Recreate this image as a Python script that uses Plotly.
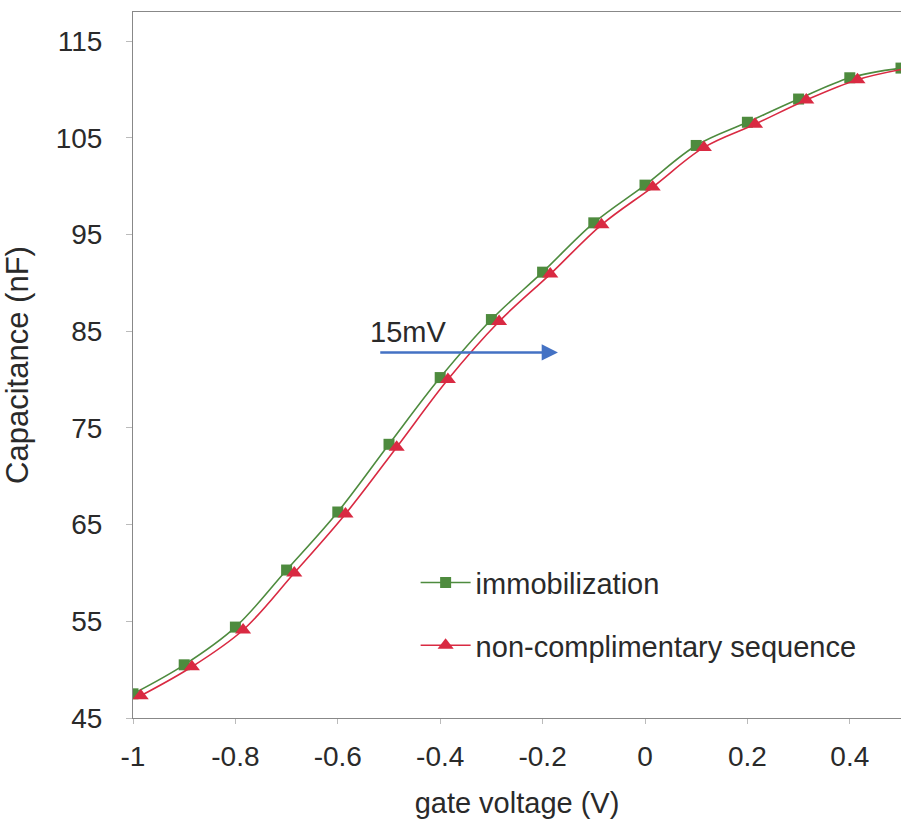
import plotly.graph_objects as go

voltage = [-1.0, -0.9, -0.8, -0.7, -0.6, -0.5, -0.4, -0.3, -0.2, -0.1, 0.0, 0.1, 0.2, 0.3, 0.4, 0.5]
immobilization = [47.5, 50.5, 54.4, 60.3, 66.3, 73.3, 80.2, 86.2, 91.1, 96.2, 100.1, 104.2, 106.6, 109.0, 111.2, 112.2]
shift_v = 0.015
noncomp_voltage = [v + shift_v for v in voltage]
noncomp = [47.3, 50.3, 54.1, 60.0, 66.1, 73.0, 80.0, 86.0, 90.9, 96.0, 99.9, 104.0, 106.4, 108.9, 111.0, 112.2]

font = "Liberation Sans, Arial, sans-serif"

fig = go.Figure()
fig.add_trace(go.Scatter(
    x=voltage, y=immobilization, name="immobilization", legendgroup="a",
    mode="lines+markers", line=dict(color="#4e8b3e", width=1.6, shape="spline"),
    marker=dict(symbol="square", size=11, color="#4e8b3e"),
))
fig.add_trace(go.Scatter(
    x=noncomp_voltage, y=noncomp, name="non-complimentary sequence", legendgroup="b",
    mode="lines+markers", line=dict(color="#d92a42", width=1.6, shape="spline"),
    marker=dict(symbol="triangle-up", size=14, color="#d92a42"),
))

fig.add_annotation(x=-0.17, y=82.8, ax=-0.52, ay=82.8, xref="x", yref="y", axref="x", ayref="y",
                   text="", showarrow=True, arrowhead=2, arrowsize=1.3, arrowwidth=2.5, arrowcolor="#4472c4")
fig.add_annotation(x=-0.463, y=84.9, xref="x", yref="y", text="15mV", showarrow=False,
                   font=dict(family=font, size=29, color="#2a2a2a"))

fig.update_layout(
    width=901, height=824,
    margin=dict(l=133, r=0, t=12, b=106),
    paper_bgcolor="white", plot_bgcolor="white",
    font=dict(family=font, size=28, color="#2a2a2a"),
    showlegend=True,
    legend=dict(x=0.368, y=0.147, xanchor="left", yanchor="middle", itemwidth=50,
                bgcolor="rgba(0,0,0,0)", font=dict(size=29, family=font), tracegroupgap=22),
    xaxis=dict(range=[-1, 0.5], tickvals=[-1, -0.8, -0.6, -0.4, -0.2, 0, 0.2, 0.4],
               ticktext=["-1", "-0.8", "-0.6", "-0.4", "-0.2", "0", "0.2", "0.4"],
               showgrid=False, zeroline=False, showline=True, linecolor="#888", linewidth=1,
               mirror=True, ticks="outside", ticklen=5, tickcolor="#bbb", ticklabelstandoff=8,
               title=dict(text="gate voltage (V)", font=dict(size=29, family=font), standoff=22),
               tickfont=dict(size=28, family=font)),
    yaxis=dict(range=[45, 118], tickvals=[45, 55, 65, 75, 85, 95, 105, 115],
               showgrid=False, zeroline=False, showline=True, linecolor="#888", linewidth=1,
               mirror=True, ticks="outside", ticklen=6, tickcolor="#bbb", ticklabelstandoff=18,
               title=dict(text="Capacitance (nF)", font=dict(size=31, family=font), standoff=18),
               tickfont=dict(size=28, family=font)),
)

fig.write_html("out.html")
